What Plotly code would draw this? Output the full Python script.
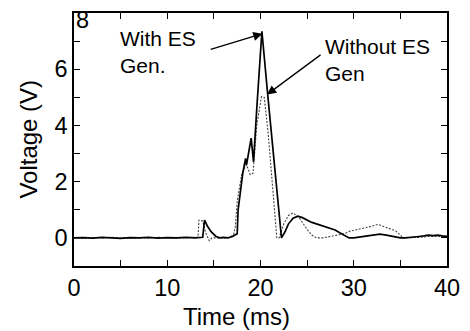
import plotly.graph_objects as go

# Series: With ES Gen. (solid)
t_with = [0, 1, 2, 3, 4, 5, 6, 7, 8, 9, 10, 11, 12, 13, 13.8, 14.0, 14.3, 14.7, 15.2, 15.6,
          16, 16.5, 17, 17.3, 17.5, 17.6, 17.8, 18.1, 18.4, 18.5, 19.0, 19.25, 19.6, 20.15,
          20.8, 21.5, 21.9, 22.25, 22.6, 23.0, 23.5, 24.0, 24.5, 25.0, 25.5, 26, 26.5, 27,
          27.5, 28, 28.5, 29, 29.5, 30, 30.5, 31, 31.5, 32, 32.8, 33.5, 34, 34.5, 35, 35.5,
          36, 36.5, 37, 37.5, 38, 38.5, 39, 39.5, 40]
v_with = [0.0, 0.01, -0.01, 0.02, 0.0, -0.02, 0.01, 0.0, 0.02, -0.01, 0.01, 0.0, 0.02, 0.0, 0.02, 0.63, 0.42, 0.22, 0.06, 0.0,
          0.02, 0.0, 0.05, 0.13, 0.15, 1.0, 1.55, 2.3, 2.83, 2.6, 3.55, 2.7, 4.6, 7.35,
          5.0, 2.5, 1.0, 0.0, 0.2, 0.5, 0.7, 0.77, 0.72, 0.62, 0.55, 0.5, 0.45, 0.4,
          0.35, 0.28, 0.18, 0.08, 0.0, 0.0, 0.02, 0.04, 0.07, 0.1, 0.13, 0.1, 0.06, 0.03, 0.0, 0.0,
          0.01, 0.03, 0.05, 0.07, 0.1, 0.08, 0.1, 0.07, 0.05]

# Series: Without ES Gen (dotted)
t_without = [0, 1, 2, 3, 4, 5, 6, 7, 8, 9, 10, 11, 12, 13, 13.3, 13.4, 13.8, 14.1, 14.5, 14.8,
             15.2, 16, 16.5, 17.1, 17.3, 17.5, 18.0, 18.5, 18.9, 19.2, 19.6, 20.1, 20.4,
             20.8, 21.3, 21.75, 22.0, 22.5, 23.0, 23.5, 24.2, 25.0, 25.5, 26, 26.7, 27.5,
             28, 29, 29.6, 30.5, 31.5, 32.6, 33.5, 34.5, 35.3, 36, 37, 38, 39, 40]
v_without = [0.0, -0.01, 0.01, 0.0, 0.02, 0.0, -0.01, 0.01, 0.0, 0.02, 0.0, -0.01, 0.01, 0.0, 0.02, 0.63, 0.6, 0.2, -0.1, 0.0,
             0.0, 0.02, 0.0, 0.1, 0.4, 1.3, 2.3, 2.6, 2.25, 2.3, 4.0, 5.02, 5.0,
             3.8, 1.8, 0.0, 0.0, 0.5, 0.8, 0.89, 0.7, 0.3, 0.1, 0.0, 0.0, 0.05,
             0.08, 0.15, 0.24, 0.3, 0.38, 0.48, 0.38, 0.25, 0.0, 0.0, 0.02, 0.05, 0.04, 0.05]

x_ticks = [0, 5, 10, 15, 20, 25, 30, 35, 40]
x_ticklabels = ["0", "", "10", "", "20", "", "30", "", "40"]
y_ticks = [0, 1, 2, 3, 4, 5, 6, 7, 8]
y_ticklabels = ["0", "", "2", "", "4", "", "6", "", ""]

FONT = "Liberation Sans, Arial, sans-serif"

fig = go.Figure()
fig.add_trace(go.Scatter(x=t_without, y=v_without, mode="lines",
                         line=dict(color="#444444", width=1.1, dash="2px,1.5px"), showlegend=False))
fig.add_trace(go.Scatter(x=t_with, y=v_with, mode="lines",
                         line=dict(color="black", width=1.7), showlegend=False))

axis_common = dict(showline=True, linecolor="black", linewidth=1.5, mirror="allticks",
                   ticks="inside", ticklen=6, tickcolor="black", tickwidth=1,
                   showgrid=False, zeroline=False,
                   tickfont=dict(family=FONT, size=23.5, color="black"))

fig.update_xaxes(range=[0, 40], tickmode="array", tickvals=x_ticks, ticktext=x_ticklabels, **axis_common)
fig.update_yaxes(range=[-1, 8], tickmode="array", tickvals=y_ticks, ticktext=y_ticklabels, **axis_common)

annotations = [
    dict(text="With ES<br>Gen.", x=4.77, y=6.62, xref="x", yref="y", showarrow=False,
         xanchor="left", yanchor="middle", align="left",
         font=dict(family=FONT, size=21, color="black")),
    dict(text="", x=20.2, y=7.26, ax=14.5, ay=6.69, xref="x", yref="y", axref="x", ayref="y",
         showarrow=True, arrowhead=2, arrowsize=1.4, arrowwidth=1.3, arrowcolor="black"),
    dict(text="Without ES<br>Gen", x=26.7, y=6.34, xref="x", yref="y", showarrow=False,
         xanchor="left", yanchor="middle", align="left",
         font=dict(family=FONT, size=21, color="black")),
    dict(text="", x=20.7, y=5.1, ax=26.6, ay=6.55, xref="x", yref="y", axref="x", ayref="y",
         showarrow=True, arrowhead=2, arrowsize=1.4, arrowwidth=1.3, arrowcolor="black"),
    dict(text="8", x=0, y=0.973, xref="paper", yref="paper", showarrow=False,
         xanchor="left", yanchor="middle", font=dict(family=FONT, size=23.5, color="black")),
    dict(text="Time (ms)", x=0.435, y=-0.2, xref="paper", yref="paper", showarrow=False,
         xanchor="center", yanchor="middle", font=dict(family=FONT, size=24, color="black")),
    dict(text="Voltage (V)", x=-0.123, y=0.5, xref="paper", yref="paper", showarrow=False,
         xanchor="center", yanchor="middle", textangle=-90,
         font=dict(family=FONT, size=24, color="black")),
]

# page body has an 8px default margin, so the figure is shifted by (8, 8)
fig.update_layout(width=462, height=323, margin=dict(l=66, r=23, t=3, b=65),
                  paper_bgcolor="white", plot_bgcolor="white", annotations=annotations)

fig.write_html("out.html")
